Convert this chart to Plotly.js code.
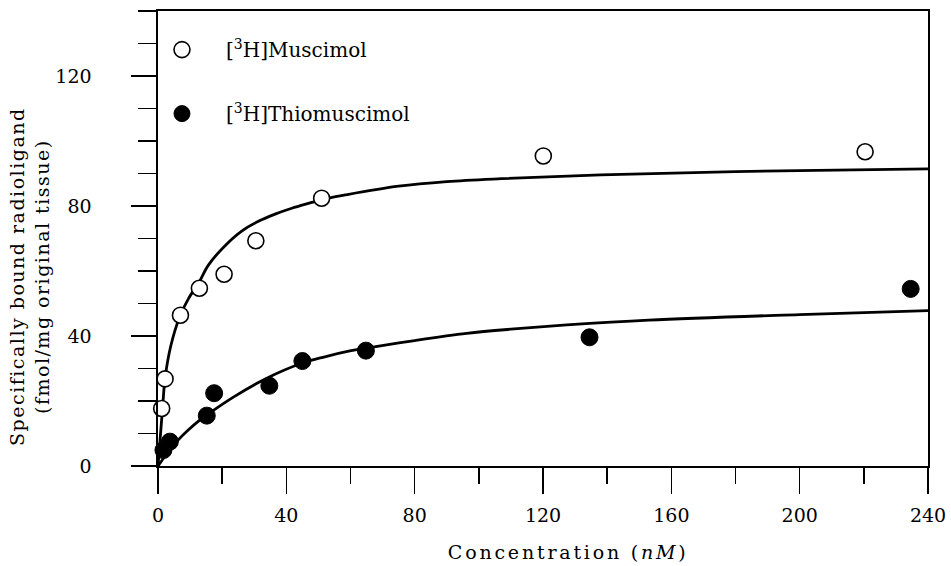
<!DOCTYPE html>
<html>
<head>
<meta charset="utf-8">
<script src="https://cdn.plot.ly/plotly-3.0.1.min.js"></script>
<style>
  html, body { margin: 0; padding: 0; background: #fff; }
  #chart { width: 951px; height: 566px; }
  g.annotation[data-index="1"] text { letter-spacing: 2.8px; }
  g.annotation[data-index="0"] text { letter-spacing: 1.5px; }
</style>
</head>
<body>
<div id="chart"></div>
<script>
// Measured data points
const muscimolX = [1.15, 2.2, 7.0, 12.9, 20.6, 30.5, 51, 120.1, 220.4];
const muscimolY = [17.7, 26.8, 46.4, 54.7, 59, 69.3, 82.4, 95.4, 96.7];
const thioX = [1.7, 3.7, 15.2, 17.5, 34.7, 45, 64.8, 134.5, 234.6];
const thioY = [4.9, 7.5, 15.5, 22.4, 24.7, 32.3, 35.5, 39.6, 54.5];

// Fitted curves
const muscimolFitX = [0, 1.45, 2.2, 4, 6.8, 9.5, 12.8, 15.7, 20.9, 26.1, 31.3, 36.5, 41.7, 47.9, 51, 58.3, 75, 90, 107, 138, 180, 240];
const muscimolFitY = [0, 18.2, 27, 37, 46, 51.5, 56.5, 61.8, 67.8, 72.3, 75.3, 77.5, 79.3, 81.1, 82, 83.4, 86.1, 87.5, 88.4, 89.6, 90.6, 91.4];
const thioFitX = [0, 3.7, 5.8, 9, 13.1, 15.2, 23.5, 33.9, 44.8, 52, 59.8, 65, 80, 96.2, 110, 127.4, 153, 200, 240];
const thioFitY = [0, 5, 7.5, 10.7, 14.2, 15.7, 21.2, 27, 31.6, 33.6, 35.4, 36.3, 38.6, 40.8, 42.1, 43.4, 44.9, 46.6, 47.8];

const seriesNames = ['[<sup>3</sup>H]Muscimol', '[<sup>3</sup>H]Thiomuscimol'];
const xTitle = 'Concentration (<i>nM</i>)';
const yTitle = 'Specifically bound radioligand<br>(fmol/mg original tissue)';

const FONT = 'DejaVu Serif, serif';

const traces = [
  { x: muscimolFitX, y: muscimolFitY, mode: 'lines', line: { color: '#000', width: 2.8, shape: 'spline', smoothing: 1 }, showlegend: false, hoverinfo: 'skip' },
  { x: thioFitX, y: thioFitY, mode: 'lines', line: { color: '#000', width: 2.8, shape: 'spline', smoothing: 1 }, showlegend: false, hoverinfo: 'skip' },
  { x: muscimolX, y: muscimolY, mode: 'markers', name: seriesNames[0], legendgroup: 'a',
    marker: { symbol: 'circle', size: 16, color: '#fff', line: { color: '#000', width: 1.6 } }, cliponaxis: false },
  { x: thioX, y: thioY, mode: 'markers', name: seriesNames[1], legendgroup: 'b',
    marker: { symbol: 'circle', size: 17, color: '#000', line: { color: '#000', width: 1 } }, cliponaxis: false }
];

const layout = {
  width: 951, height: 566,
  margin: { l: 158, r: 23, t: 11, b: 100 },
  paper_bgcolor: '#fff', plot_bgcolor: '#fff',
  font: { family: FONT, color: '#000', size: 19 },
  showlegend: true,
  legend: {
    x: -0.026, y: 0.958, xanchor: 'left', yanchor: 'top',
    bgcolor: 'rgba(0,0,0,0)', borderwidth: 0,
    font: { family: FONT, size: 20, color: '#000' },
    traceorder: 'grouped', tracegroupgap: 35, itemwidth: 78
  },
  xaxis: {
    range: [0, 240], showgrid: false, zeroline: false,
    showline: true, linecolor: '#000', linewidth: 1.6, mirror: true,
    ticks: 'outside', tickmode: 'linear', tick0: 0, dtick: 40,
    ticklen: 26, tickwidth: 1.5, tickcolor: '#000',
    ticklabelstandoff: 6,
    minor: { tickmode: 'linear', tick0: 0, dtick: 20, ticks: 'outside', ticklen: 16, tickwidth: 1.5, tickcolor: '#000', showgrid: false },
    tickfont: { family: FONT, size: 19, color: '#000' }
  },
  yaxis: {
    range: [0, 140], showgrid: false, zeroline: false,
    showline: true, linecolor: '#000', linewidth: 1.6, mirror: true,
    ticks: 'outside', tickmode: 'linear', tick0: 0, dtick: 40,
    ticklen: 25, tickwidth: 1.5, tickcolor: '#000',
    ticklabelstandoff: 36,
    minor: { tickmode: 'linear', tick0: 0, dtick: 10, ticks: 'outside', ticklen: 18, tickwidth: 1.5, tickcolor: '#000', showgrid: false },
    tickfont: { family: FONT, size: 19, color: '#000' }
  },
  annotations: [
    { text: yTitle, xref: 'paper', yref: 'paper', x: -0.1675, y: 0.415, xanchor: 'center', yanchor: 'middle',
      textangle: -90, showarrow: false, font: { family: FONT, size: 19, color: '#000' } },
    { text: xTitle, xref: 'paper', yref: 'paper', x: 0.533, y: -0.189, xanchor: 'center', yanchor: 'middle',
      showarrow: false, font: { family: FONT, size: 19, color: '#000' } }
  ]
};

Plotly.newPlot('chart', traces, layout, { staticPlot: true, displayModeBar: false });
</script>
</body>
</html>
